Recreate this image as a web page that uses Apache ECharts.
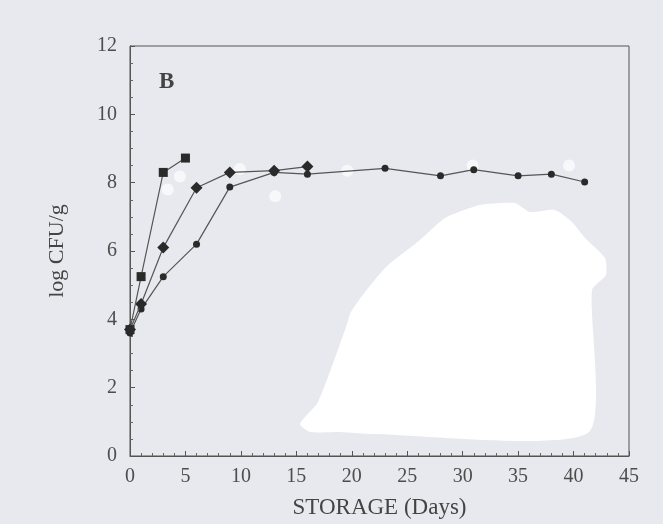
<!DOCTYPE html>
<html>
<head>
<meta charset="utf-8">
<script src="https://cdn.jsdelivr.net/npm/echarts@6/dist/echarts.min.js"></script>
<style>
html,body{margin:0;padding:0;background:#e8e8ef;}
#chart{width:663px;height:524px;}
</style>
</head>
<body>
<div id="chart"></div>
<script>
// Data (storage day, log CFU/g)
const xTicks = [0, 5, 10, 15, 20, 25, 30, 35, 40, 45];
const yTicks = [0, 2, 4, 6, 8, 10, 12];
const squareDays = [0, 1, 3, 5];
const squareVals = [3.7, 5.25, 8.3, 8.72];
const diamondDays = [0, 1, 3, 6, 9, 13, 16];
const diamondVals = [3.7, 4.45, 6.1, 7.85, 8.3, 8.35, 8.47];
const circleDays = [0, 1, 3, 6, 9, 13, 16, 23, 28, 31, 35, 38, 41];
const circleVals = [3.6, 4.3, 5.25, 6.2, 7.87, 8.3, 8.25, 8.42, 8.2, 8.38, 8.2, 8.25, 8.02];
const openDays = [3.4, 4.5, 9.9, 13.1, 19.6, 30.9, 39.6];
const openVals = [7.8, 8.18, 8.4, 7.6, 8.35, 8.5, 8.5];

const pair = (xs, ys) => xs.map((x, i) => [x, ys[i]]);

const font = 'Liberation Serif';

const chart = echarts.init(document.getElementById('chart'));
chart.setOption({
  backgroundColor: '#e8e8ef',
  animation: false,
  title: {
    text: 'B', left: 154, top: 66,
    textStyle: {fontFamily: font, fontSize: 23, fontWeight: 'bold', color: '#444'}
  },
  grid: {left: 130, right: 34, top: 46, bottom: 67, show: true, borderColor: '#555', borderWidth: 1, backgroundColor: 'transparent'},
  xAxis: {
    type: 'value', min: xTicks[0], max: xTicks[xTicks.length - 1], interval: 5,
    name: 'STORAGE (Days)', nameLocation: 'middle', nameGap: 40,
    nameTextStyle: {fontFamily: font, fontSize: 23, color: '#444'},
    axisLine: {lineStyle: {color: '#555', width: 1}},
    axisTick: {inside: true, length: 5, lineStyle: {color: '#555'}},
    minorTick: {show: true, splitNumber: 5, length: 3, lineStyle: {color: '#666'}},
    axisLabel: {fontFamily: font, fontSize: 20, color: '#4d4d4d', margin: 11},
    splitLine: {show: false}
  },
  yAxis: {
    type: 'value', min: yTicks[0], max: yTicks[yTicks.length - 1], interval: 2,
    name: 'log CFU/g', nameLocation: 'middle', nameGap: 62, nameRotate: 90,
    nameTextStyle: {fontFamily: font, fontSize: 22, color: '#444'},
    axisLine: {lineStyle: {color: '#555', width: 1}},
    axisTick: {inside: true, length: 5, lineStyle: {color: '#555'}},
    minorTick: {show: true, splitNumber: 4, length: 3, lineStyle: {color: '#666'}},
    axisLabel: {fontFamily: font, fontSize: 20, color: '#4d4d4d', margin: 13},
    splitLine: {show: false}
  },
  graphic: [{
    type: 'polygon', z: 1, silent: true,
    shape: {smooth: 0.2, points: [
      [300,424],[318,402],[345,330],[352,310],[385,268],[420,240],[445,218],[480,205],[515,203],
      [530,212],[555,210],[572,222],[585,238],[605,258],[606,275],[592,290],[588,433],[372,434],[340,432],[310,432]
    ]},
    style: {fill: '#ffffff'}
  }],
  series: [
    {type: 'line', data: pair(openDays, openVals), z: 3, lineStyle: {opacity: 0}, symbol: 'circle', symbolSize: 12,
     itemStyle: {color: '#f8f8fb', borderWidth: 0}},
    {type: 'line', data: pair(circleDays, circleVals), z: 4, symbol: 'circle', symbolSize: 7,
     lineStyle: {color: '#555', width: 1.2}, itemStyle: {color: '#2a2a2a'}},
    {type: 'line', data: pair(diamondDays, diamondVals), z: 5, symbol: 'diamond', symbolSize: 12,
     lineStyle: {color: '#555', width: 1.2}, itemStyle: {color: '#2a2a2a'}},
    {type: 'line', data: pair(squareDays, squareVals), z: 6, symbol: 'rect', symbolSize: 9,
     lineStyle: {color: '#555', width: 1.2}, itemStyle: {color: '#2a2a2a'}}
  ]
});
</script>
</body>
</html>
